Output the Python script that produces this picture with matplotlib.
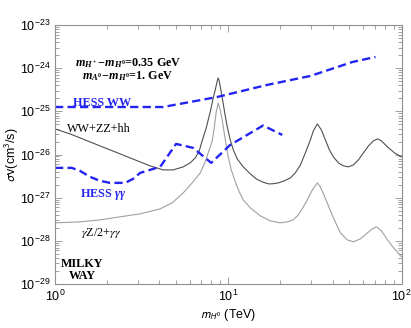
import matplotlib
matplotlib.use("Agg")
import matplotlib.pyplot as plt
import numpy as np

plt.rcParams['font.family'] = ['Liberation Sans', 'DejaVu Sans']
plt.rcParams['mathtext.fontset'] = 'stixsans'
plt.rcParams['mathtext.rm'] = 'Liberation Serif:bold'
plt.rcParams['mathtext.it'] = 'Liberation Serif:italic:bold'
plt.rcParams['mathtext.bf'] = 'Liberation Serif:bold'

# HESS WW limit
hess_ww_m = [1.0, 1.82, 4.2, 8.64, 16.8, 29.8, 52.1, 70.8]
hess_ww_sv = [1.26e-25, 1.26e-25, 1.26e-25, 2.15e-25, 4.1e-25, 6.6e-25, 1.39e-24, 1.82e-24]

# HESS gamma-gamma limit
hess_gg_m = [1.0, 1.25, 1.395, 1.594, 1.82, 2.08, 2.54, 2.82, 3.10, 4.05, 5.0, 6.28, 7.97,
             10.27, 15.9, 20.5]
hess_gg_sv = [4.9e-27, 4.9e-27, 4.17e-27, 3.03e-27, 2.45e-27, 2.2e-27, 2.2e-27, 2.72e-27,
              3.75e-27, 5.2e-27, 1.76e-26, 1.42e-26, 6.4e-27, 1.67e-26, 4.7e-26, 2.84e-26]

# WW+ZZ+hh prediction
ww_m = [1.0, 1.221, 1.491, 1.820, 2.223, 2.713, 3.313, 3.541, 4.210, 4.810, 5.495, 6.03,
        6.45, 6.80, 7.07, 7.46, 7.87, 8.19, 8.41, 8.64, 8.75, 8.87, 9.11, 9.36, 9.61, 9.87,
        10.27, 10.69, 11.27, 12.21, 13.41, 14.52, 15.72, 17.03, 17.96, 19.45, 21.07, 22.83,
        24.39, 26.09, 27.87, 29.79, 30.99, 32.69, 34.48, 36.37, 38.35, 40.45, 43.24, 46.21,
        49.39, 52.79, 56.41, 60.30, 64.44, 68.89, 72.65, 76.62, 83.0, 91.1, 100.0]
ww_sv = [3.92e-26, 3.0e-26, 2.18e-26, 1.58e-26, 1.15e-26, 8.34e-27, 6.06e-27, 5.45e-27,
         4.4e-27, 4.4e-27, 5.17e-27, 6.4e-27, 8.34e-27, 1.21e-26, 2.07e-26, 4.13e-26,
         9.7e-26, 2.04e-25, 3.13e-25, 5.06e-25, 5.93e-25, 5.06e-25, 2.81e-25, 1.48e-25,
         7.83e-26, 4.36e-26, 2.18e-26, 1.28e-26, 7.9e-27, 5.17e-27, 3.56e-27, 2.72e-27,
         2.32e-27, 2.09e-27, 2.09e-27, 2.2e-27, 2.45e-27, 2.87e-27, 3.75e-27, 5.74e-27,
         1.09e-26, 2.18e-26, 3.52e-26, 5.1e-26, 3.71e-26, 2.18e-26, 1.28e-26, 8.8e-27,
         6.4e-27, 5.45e-27, 5.17e-27, 5.74e-27, 7.5e-27, 1.09e-26, 1.58e-26, 2.07e-26,
         2.30e-26, 2.07e-26, 1.50e-26, 1.09e-26, 8.8e-27]

# gamma Z/2 + gamma gamma prediction
gz_m = [1.0, 1.395, 1.820, 2.376, 3.10, 4.05, 4.75, 5.495, 6.19, 6.89, 7.36, 7.66, 8.08,
        8.30, 8.52, 8.75, 8.99, 9.23, 9.48, 9.74, 10.0, 10.41, 10.98, 11.58, 12.21, 13.41,
        15.31, 17.5, 19.98, 21.93, 23.7, 25.39, 27.13, 28.6, 30.6, 32.69, 34.03, 35.89,
        37.85, 40.45, 44.4, 48.7, 52.79, 57.9, 63.6, 68.0, 71.7, 76.62, 83.0, 91.1, 100.0]
gz_sv = [2.61e-28, 2.75e-28, 3.06e-28, 3.6e-28, 4.22e-28, 5.5e-28, 7.6e-28, 1.29e-27,
         2.2e-27, 3.75e-27, 6.74e-27, 1.09e-26, 2.07e-26, 4.13e-26, 9.7e-26, 1.56e-25,
         1.08e-25, 6.3e-26, 3.16e-26, 1.58e-26, 8.8e-27, 4.4e-27, 2.32e-27, 1.36e-27,
         8.9e-28, 5.8e-28, 3.79e-28, 2.9e-28, 2.61e-28, 2.75e-28, 3.06e-28, 4.0e-28,
         6.12e-28, 8.9e-28, 1.52e-27, 2.2e-27, 1.78e-27, 1.10e-27, 6.46e-28, 3.4e-28,
         1.53e-28, 1.05e-28, 9.5e-29, 1.11e-28, 1.53e-28, 1.9e-28, 2.11e-28, 1.7e-28,
         1.05e-28, 6.5e-29, 4.27e-29]

yticks = [1e-29, 1e-28, 1e-27, 1e-26, 1e-25, 1e-24, 1e-23]
xticks = [1, 10, 100]

W, H = 411, 328
fig = plt.figure(figsize=(W / 100, H / 100), dpi=100)
ax = fig.add_axes([55 / W, 1 - 284 / H, (401.5 - 55) / W, (284 - 25) / H])

blue = '#2424f0'
ax.plot(ww_m, ww_sv, color='#505050', lw=0.8)
ax.plot(gz_m, gz_sv, color='#a0a0a0', lw=0.8)
ax.plot(hess_ww_m, hess_ww_sv, color=blue, lw=1.7, dashes=(3.5, 1.8))
ax.plot(hess_gg_m, hess_gg_sv, color=blue, lw=1.7, dashes=(3.5, 1.8))

ax.set_xscale('log')
ax.set_yscale('log')
ax.set_xlim(1, 100)
ax.set_ylim(1e-29, 1e-23)
ax.set_yticks(yticks)
ax.set_xticks(xticks)

for s in ax.spines.values():
    s.set_color('#909090')
    s.set_linewidth(0.8)
ax.tick_params(which='both', direction='in', top=True, right=True, color='#909090',
               labelsize=9, width=0.6)
ax.tick_params(which='major', length=5)
ax.tick_params(which='minor', length=3)
ax.xaxis.set_minor_locator(matplotlib.ticker.LogLocator(base=10, subs=np.arange(2, 10)))
ax.yaxis.set_minor_locator(matplotlib.ticker.LogLocator(base=10, subs=np.arange(2, 10), numticks=20))
ax.yaxis.set_minor_formatter(matplotlib.ticker.NullFormatter())
ax.xaxis.set_minor_formatter(matplotlib.ticker.NullFormatter())
ax.tick_params(axis='x', pad=3.5)
ax.tick_params(axis='y', pad=3)

def fx(px):
    return px / W

def fy(py):
    return 1 - py / H

serif = 'Liberation Serif'
fig.text(fx(128), fy(63), r'$m_{H^+}\!-\!m_{H^0}$=0.35 GeV', family=serif, weight='bold',
         fontsize=8.7, ha='center', va='center', math_fontfamily='custom')
fig.text(fx(128), fy(76), r'$m_{A^0}\!-\!m_{H^0}$=1. GeV', family=serif, weight='bold',
         fontsize=8.7, ha='center', va='center', math_fontfamily='custom')
fig.text(fx(102), fy(103), 'HESS WW', family=serif, weight='bold', fontsize=8.7,
         color=blue, ha='center', va='center')
fig.text(fx(99), fy(129), 'WW+ZZ+hh', family=serif, fontsize=8.7, ha='center', va='center')
fig.text(fx(103), fy(195), r'HESS $\gamma\gamma$', family=serif, weight='bold', fontsize=8.7,
         color=blue, ha='center', va='center', math_fontfamily='custom')
fig.text(fx(101), fy(233), r'$\gamma$Z/2+$\gamma\gamma$', family=serif, fontsize=8.7,
         ha='center', va='center', math_fontfamily='stix')
fig.text(fx(82), fy(270), 'MILKY\nWAY', family=serif, weight='bold', fontsize=8.7,
         ha='center', va='center', linespacing=0.95)

fig.text(fx(228), fy(315), r'$m_{H^0}$ (TeV)', fontsize=9, ha='center', va='center')
fig.text(fx(12), fy(155), r'$\sigma$v(cm$^3$/s)', fontsize=9, ha='center', va='center',
         rotation=90)

fig.savefig('out.png', dpi=100)
